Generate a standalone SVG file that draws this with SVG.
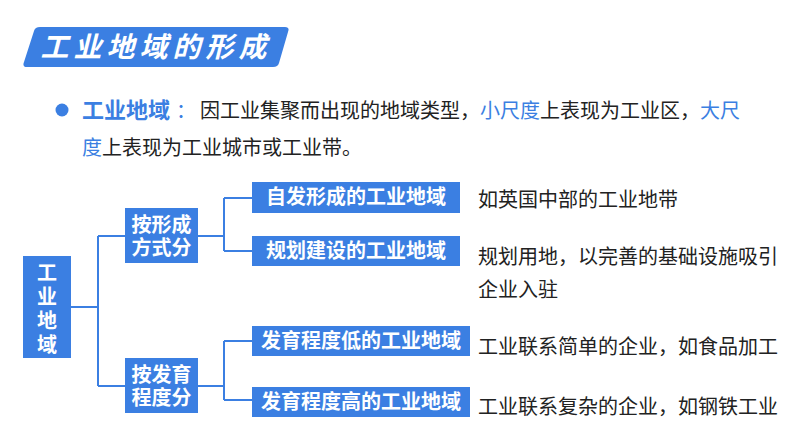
<svg xmlns="http://www.w3.org/2000/svg" width="794" height="447" viewBox="0 0 794 447">
<style>
text{font-family:"Noto Sans CJK SC","Noto Sans",sans-serif;}
.box{fill:#3b7fe2;}
.wt{fill:#ffffff;font-weight:bold;font-size:20px;text-anchor:middle;}
.bt{fill:#222222;font-size:20px;}
.bl{fill:#3b7fe2;}
.ln{fill:none;stroke:#3b7fe2;stroke-width:2;}
</style>
<rect width="794" height="447" fill="#ffffff"/>
<g id="title">
<path d="M40,27 L285,27 Q290,27 288,32 L279,63 Q278,67 273,67 L27,67 Q22,67 24,62 L34,31 Q35,27 40,27 Z" fill="#3b7fe2"/>
<text x="156" y="57" style="fill:#fff;font-weight:bold;font-style:italic;font-size:28px;letter-spacing:5px;" text-anchor="middle">工业地域的形成</text>
</g>
<g id="definition">
<circle cx="62" cy="110" r="6.5" fill="#3b7fe2"/>
<text x="82" y="118" class="bl" style="font-size:22px;font-weight:bold;">工业地域</text>
<text x="176" y="118" class="bl" style="font-size:20px;">：</text>
<text x="200" y="118" style="font-size:20px;"><tspan fill="#222">因工业集聚而出现的地域类型，</tspan><tspan class="bl">小尺度</tspan><tspan fill="#222">上表现为工业区，</tspan><tspan class="bl">大尺</tspan></text>
<text x="82" y="155" style="font-size:20px;"><tspan class="bl">度</tspan><tspan fill="#222">上表现为工业城市或工业带。</tspan></text>
</g>
<g id="connectors">
<path class="ln" d="M71,307 H98 M98,236 V386 M98,236 H125 M98,386 H125"/>
<path class="ln" d="M198,236 H224 M224,198 V251 M224,198 H252 M224,251 H252"/>
<path class="ln" d="M198,386 H224 M224,341 V400 M224,341 H252 M224,400 H252"/>
</g>
<g id="root">
<rect class="box" x="23" y="256" width="48" height="102"/>
<text class="wt" style="font-size:20px;"><tspan x="47" y="280">工</tspan><tspan x="47" y="304">业</tspan><tspan x="47" y="328">地</tspan><tspan x="47" y="352">域</tspan></text>
</g>
<g id="cat1">
<rect class="box" x="125" y="208" width="73" height="55"/>
<text class="wt"><tspan x="161.5" y="232">按形成</tspan><tspan x="161.5" y="255">方式分</tspan></text>
</g>
<g id="cat2">
<rect class="box" x="125" y="358" width="73" height="55"/>
<text class="wt"><tspan x="161.5" y="382">按发育</tspan><tspan x="161.5" y="405">程度分</tspan></text>
</g>
<g id="leaf1">
<rect class="box" x="252" y="182" width="208" height="31"/>
<text class="wt" x="356" y="204">自发形成的工业地域</text>
</g>
<g id="leaf2">
<rect class="box" x="252" y="236" width="208" height="30"/>
<text class="wt" x="356" y="258">规划建设的工业地域</text>
</g>
<g id="leaf3">
<rect class="box" x="252" y="326" width="218" height="30"/>
<text class="wt" x="361" y="348">发育程度低的工业地域</text>
</g>
<g id="leaf4">
<rect class="box" x="252" y="387" width="218" height="30"/>
<text class="wt" x="361" y="409">发育程度高的工业地域</text>
</g>
<g id="notes">
<text class="bt" x="478" y="207">如英国中部的工业地带</text>
<text class="bt" x="478" y="264">规划用地，以完善的基础设施吸引</text>
<text class="bt" x="478" y="297">企业入驻</text>
<text class="bt" x="478" y="354">工业联系简单的企业，如食品加工</text>
<text class="bt" x="478" y="414">工业联系复杂的企业，如钢铁工业</text>
</g>
</svg>
